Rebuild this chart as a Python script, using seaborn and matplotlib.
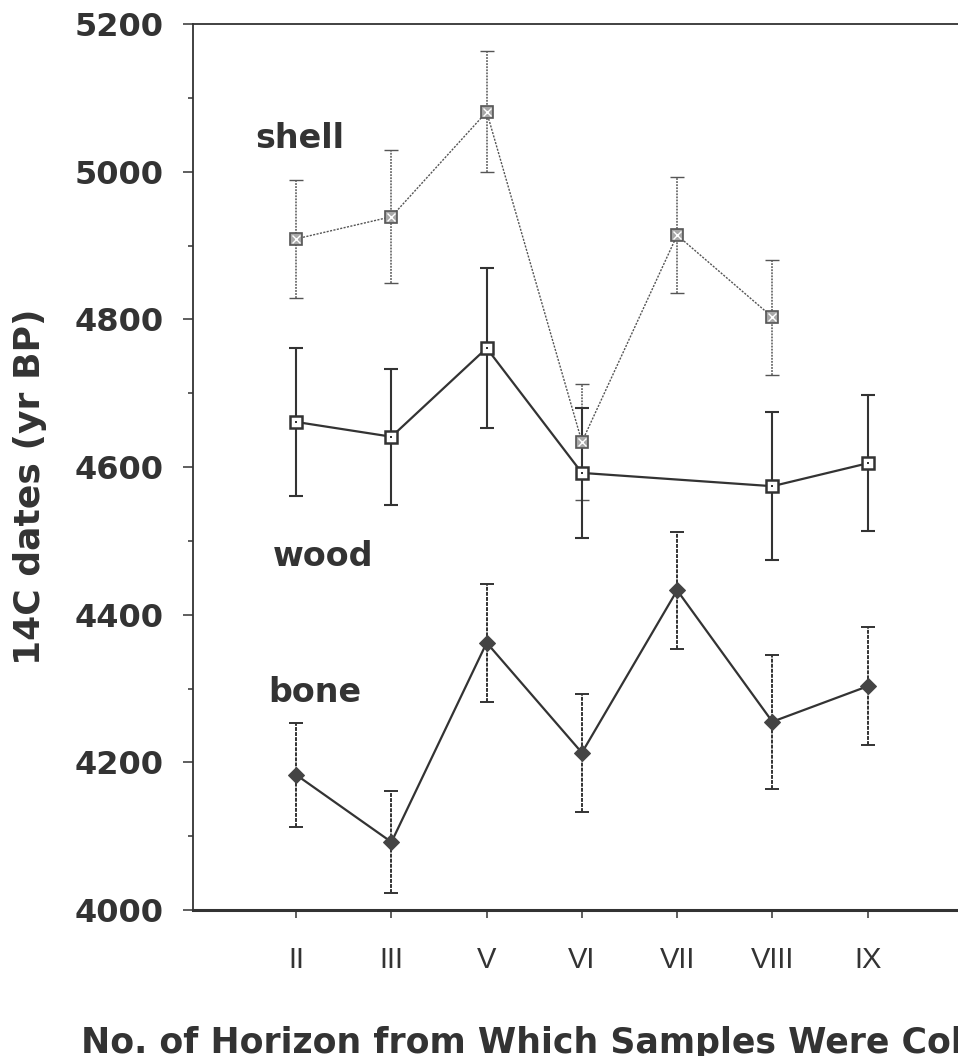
import numpy as np
import pandas as pd
import matplotlib
matplotlib.use("Agg")
import matplotlib.pyplot as plt
import seaborn as sns

# --- data ---
horizons = ["II", "III", "V", "VI", "VII", "VIII", "IX"]
shell_age = [4909, 4939, 5081, 4634, 4914, 4803, np.nan]
shell_err = [80, 90, 82, 79, 79, 78, np.nan]
wood_age = [4661, 4641, 4761, 4592, np.nan, 4574, 4605]
wood_err = [100, 92, 108, 88, np.nan, 100, 92]
bone_age = [4183, 4092, 4362, 4213, 4433, 4255, 4303]
bone_err = [70, 69, 80, 80, 79, 91, 80]

y_ticks = [4000, 4200, 4400, 4600, 4800, 5000, 5200]

sns.set_style("ticks")
plt.rcParams["font.family"] = ["Liberation Sans", "DejaVu Sans"]

INK = "#333333"
BOLD = ["DejaVu Sans"]

fig = plt.figure(figsize=(9.58, 10.56), dpi=100)
# axes run past the right edge like the cropped scan
ax = fig.add_axes([193 / 958, 1 - 910 / 1056, 826 / 958, 886 / 1056])

pos = np.arange(len(horizons))


def make_df(ages, errs):
    df = pd.DataFrame({"pos": pos, "age": ages, "err": errs})
    return df.dropna()


shell = make_df(shell_age, shell_err)
wood = make_df(wood_age, wood_err)
bone = make_df(bone_age, bone_err)

# error bars
eb = ax.errorbar(shell["pos"], shell["age"], yerr=shell["err"], fmt="none",
                 ecolor="#555555", elinewidth=1.1, capsize=4.7, capthick=1.0, zorder=2)
eb[2][0].set_linestyle((0, (1.2, 0.8)))
eb = ax.errorbar(wood["pos"], wood["age"], yerr=wood["err"], fmt="none",
                 ecolor=INK, elinewidth=1.5, capsize=4.7, capthick=1.5, zorder=2)
eb = ax.errorbar(bone["pos"], bone["age"], yerr=bone["err"], fmt="none",
                 ecolor=INK, elinewidth=1.4, capsize=4.7, capthick=1.4, zorder=2)
eb[2][0].set_linestyle((0, (2.0, 0.6)))

# lines + markers
sns.lineplot(data=shell, x="pos", y="age", ax=ax, color="#555555", lw=1.0,
             linestyle=(0, (1.5, 1.0)), marker="s", markersize=8.5,
             markerfacecolor="#a8a8a8", markeredgecolor="#555555", markeredgewidth=1.2, zorder=3)
sns.lineplot(data=shell, x="pos", y="age", ax=ax, color="#555555", lw=0,
             marker="x", markersize=6, markeredgewidth=1.0, zorder=4)
sns.lineplot(data=wood, x="pos", y="age", ax=ax, color=INK, lw=1.6,
             marker="s", markersize=9, markerfacecolor="white",
             markeredgecolor=INK, markeredgewidth=1.8, zorder=3)
sns.lineplot(data=wood, x="pos", y="age", ax=ax, color=INK, lw=0,
             marker="s", markersize=1.8, markeredgewidth=0, zorder=4)
sns.lineplot(data=bone, x="pos", y="age", ax=ax, color=INK, lw=1.6,
             marker="D", markersize=8, markerfacecolor="#444444",
             markeredgecolor="#444444", zorder=3)

# series labels
lab = dict(fontsize=24, fontweight="bold", color=INK, ha="left", va="baseline", family=BOLD)
ax.text(-0.43, 5032, "shell", **lab)
ax.text(-0.25, 4466, "wood", **lab)
ax.text(-0.29, 4282, "bone", **lab)

# axes styling
ax.set_xlim(-1.084, 7.59)
ax.set_ylim(4000, 5200)
ax.set_yticks(y_ticks)
ax.set_yticklabels([str(v) for v in y_ticks], fontsize=23, fontweight="bold",
                   color=INK, family=BOLD)
ax.set_yticks(np.arange(4100, 5200, 200), minor=True)
ax.set_xticks(pos)
ax.set_xticklabels(horizons, fontsize=21, color=INK)
ax.tick_params(axis="y", which="major", length=7, width=1.1, pad=14, colors=INK)
ax.tick_params(axis="y", which="minor", length=3.6, width=1.1, colors=INK)
ax.tick_params(axis="x", length=6, width=1.1, pad=20, colors=INK)
ax.set_xlabel("")
ax.set_ylabel("")
for s in ["left", "top", "right"]:
    ax.spines[s].set_linewidth(1.3)
    ax.spines[s].set_color(INK)
ax.spines["bottom"].set_linewidth(2.2)
ax.spines["bottom"].set_color(INK)

fig.text(30 / 958, 1 - 487 / 1056, "14C dates (yr BP)", rotation=90, ha="center",
         va="center", fontsize=26, fontweight="bold", color=INK, family=BOLD)
fig.text(81 / 958, 1 - 1053 / 1056, "No. of Horizon from Which Samples Were Collected",
         ha="left", va="baseline", fontsize=25, fontweight="bold", color=INK, family=BOLD)

fig.savefig("out.png", dpi=100)
